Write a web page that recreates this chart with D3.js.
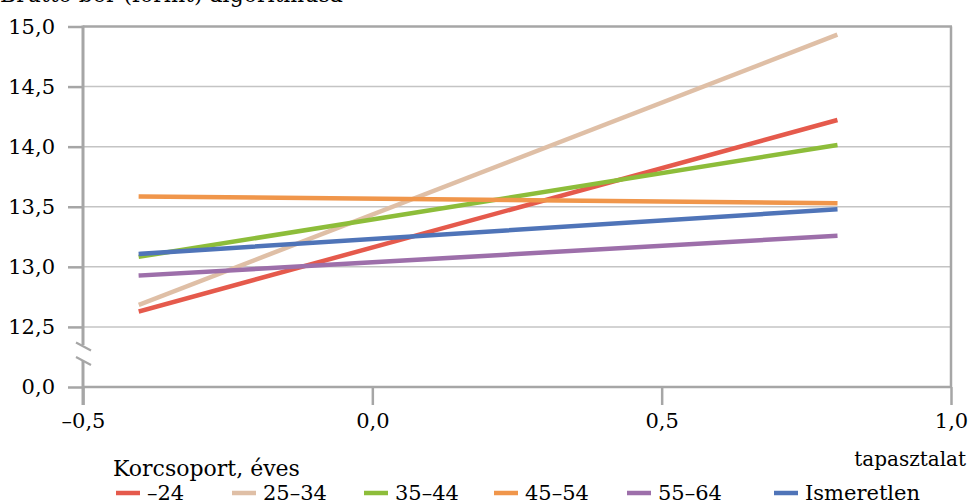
<!DOCTYPE html>
<html>
<head>
<meta charset="utf-8">
<script src="https://cdn.jsdelivr.net/npm/d3@7"></script>
<style>
  html, body { margin: 0; padding: 0; background: #fff; }
  svg { display: block; }
</style>
</head>
<body>
<svg id="chart" width="969" height="502"></svg>
<script>
// ---- data ----
const xEndpoints = [-0.4, 0.8];
const seriesNames = ["–24", "25–34", "35–44", "45–54", "55–64", "Ismeretlen"];
const seriesStart = [12.633, 12.69, 13.086, 13.586, 12.928, 13.108];
const seriesEnd   = [14.217, 14.925, 14.011, 13.53, 13.258, 13.478];
const seriesColors = ["#e55a4c", "#dfbfa6", "#8dbd3a", "#f0964b", "#9d6faa", "#4f74b8"];
const xTicks = [-0.5, 0, 0.5, 1.0];
const yTicks = [12, 12.5, 13, 13.5, 14, 14.5, 15]; // 12 is shown as 0,0 (axis break)
const yTickLabels = ["0,0", "12,5", "13,0", "13,5", "14,0", "14,5", "15,0"];
const titleText = "Bruttó bér (forint) algoritmusa";
const xAxisTitle = "tapasztalat";
const legendTitle = "Korcsoport, éves";

// ---- layout ----
const FONT = "'DejaVu Serif', serif";
const L = 83, R = 951, T = 26.5, B = 387;
const legendX = [116, 232, 364, 494, 627, 774];

const svg = d3.select("#chart");
const x = d3.scaleLinear().domain([-0.5, 1.0]).range([L, R]);
const y = d3.scaleLinear().domain([12, 15]).range([B, T]);

// gridlines
svg.append("g").selectAll("line")
  .data(yTicks.filter(v => v > 12 && v < 15))
  .join("line")
  .attr("x1", L).attr("x2", R)
  .attr("y1", d => y(d)).attr("y2", d => y(d))
  .attr("stroke", "#c4c4c4").attr("stroke-width", 1.5);

// top & right border
svg.append("line").attr("x1", L).attr("x2", R + 1).attr("y1", y(15)).attr("y2", y(15))
  .attr("stroke", "#a6a6a6").attr("stroke-width", 2.5);
svg.append("line").attr("x1", R).attr("x2", R).attr("y1", y(15)).attr("y2", B)
  .attr("stroke", "#a6a6a6").attr("stroke-width", 2.5);

// y axis
const yAxis = d3.axisLeft(y).tickValues(yTicks).tickSize(15).tickPadding(13)
  .tickFormat((d, i) => yTickLabels[i]);
const gy = svg.append("g").attr("transform", `translate(${L},0)`).call(yAxis);
gy.attr("font-family", FONT).attr("font-size", 21);
gy.select(".domain").remove();
gy.selectAll(".tick line").attr("stroke", "#a6a6a6").attr("stroke-width", 2.5);
gy.selectAll(".tick text").attr("fill", "#000");

// y axis line with break
svg.append("line").attr("x1", L).attr("x2", L).attr("y1", T - 1).attr("y2", 345)
  .attr("stroke", "#a6a6a6").attr("stroke-width", 3);
svg.append("line").attr("x1", L).attr("x2", L).attr("y1", 361).attr("y2", B + 18)
  .attr("stroke", "#a6a6a6").attr("stroke-width", 3);
svg.append("line").attr("x1", 76).attr("x2", 91).attr("y1", 342.5).attr("y2", 350.5)
  .attr("stroke", "#a6a6a6").attr("stroke-width", 2);
svg.append("line").attr("x1", 76).attr("x2", 91).attr("y1", 357).attr("y2", 365)
  .attr("stroke", "#a6a6a6").attr("stroke-width", 2);

// x axis
const xAxis = d3.axisBottom(x).tickValues(xTicks).tickSize(18).tickPadding(8)
  .tickFormat(d => (d < 0 ? "–" : "") + d3.format(".1f")(Math.abs(d)).replace(".", ","));
const gx = svg.append("g").attr("transform", `translate(0,${B})`).call(xAxis);
gx.attr("font-family", FONT).attr("font-size", 21);
gx.select(".domain").remove();
gx.selectAll(".tick line").attr("stroke", "#a6a6a6").attr("stroke-width", 2.5);
gx.selectAll(".tick text").attr("fill", "#000");
svg.append("line").attr("x1", L).attr("x2", R + 1).attr("y1", B).attr("y2", B)
  .attr("stroke", "#a6a6a6").attr("stroke-width", 2.5);

// series lines
const line = d3.line().x(d => x(d[0])).y(d => y(d[1]));
svg.append("g").selectAll("path")
  .data(seriesNames.map((n, i) => ({
    name: n, color: seriesColors[i],
    pts: [[xEndpoints[0], seriesStart[i]], [xEndpoints[1], seriesEnd[i]]]
  })))
  .join("path")
  .attr("d", d => line(d.pts))
  .attr("fill", "none")
  .attr("stroke", d => d.color)
  .attr("stroke-width", 4.5)
  .attr("stroke-linecap", "square");

// titles
const tg = svg.append("g").attr("font-family", FONT).attr("font-size", 21);
tg.append("text").attr("x", 0).attr("y", 2).attr("font-size", 22).text(titleText);
tg.append("text").attr("x", 966).attr("y", 466).attr("font-size", 20)
  .attr("text-anchor", "end").text(xAxisTitle);

// legend
tg.append("text").attr("x", 113).attr("y", 476).attr("font-size", 22).text(legendTitle);
const lg = tg.append("g").selectAll("g").data(seriesNames).join("g")
  .attr("transform", (d, i) => `translate(${legendX[i]},0)`);
lg.append("line").attr("x1", 0).attr("x2", 24).attr("y1", 493).attr("y2", 493)
  .attr("stroke", (d, i) => seriesColors[i]).attr("stroke-width", 4.5);
lg.append("text").attr("x", 31).attr("y", 500).text(d => d);
</script>
</body>
</html>
